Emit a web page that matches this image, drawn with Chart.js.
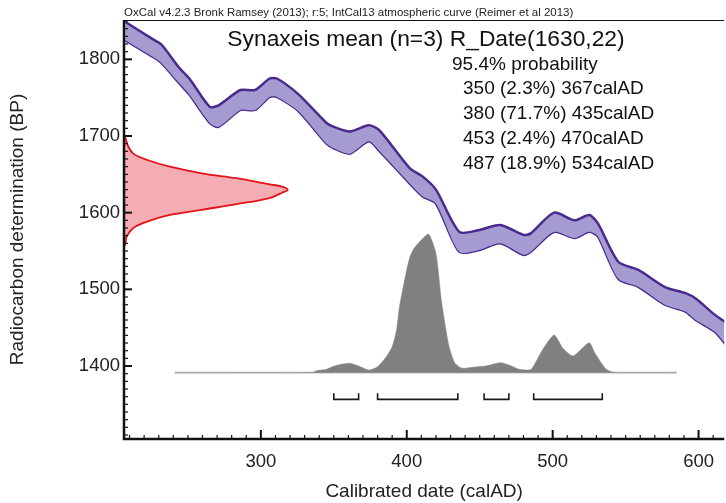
<!DOCTYPE html>
<html>
<head>
<meta charset="utf-8">
<script src="https://cdn.jsdelivr.net/npm/chart.js@4"></script>
<style>
  html, body { margin: 0; padding: 0; background: #ffffff; }
  #wrap { width: 726px; height: 503px; position: relative; }
</style>
</head>
<body>
<div id="wrap"><canvas id="c"></canvas></div>
<script>
// ---- Calibration curve (IntCal13) band, calAD vs BP ----
const calX     = [207, 227, 232, 244, 251, 265, 271, 286, 296, 306, 311, 326, 345, 350, 361, 374, 381, 402, 411, 420, 436, 449, 464, 480, 485, 501, 515, 525, 531, 545, 559, 577, 591, 598, 611, 620];
const calUpper = [1849, 1825, 1819, 1789, 1775, 1738, 1740, 1760, 1760, 1775, 1775, 1754, 1717, 1712, 1706, 1714, 1708, 1658, 1647, 1630, 1575, 1577, 1584, 1571, 1573, 1600, 1590, 1597, 1586, 1536, 1525, 1503, 1495, 1488, 1467, 1455];
const calLower = [1825, 1802, 1795, 1769, 1754, 1717, 1712, 1734, 1734, 1751, 1751, 1732, 1690, 1684, 1677, 1693, 1681, 1638, 1621, 1612, 1549, 1551, 1560, 1545, 1549, 1575, 1567, 1575, 1569, 1514, 1503, 1480, 1471, 1460, 1445, 1425];

// ---- Radiocarbon date R_Date(1630,22): BP value and drawn extent (calAD) ----
const dateBP    = [1700, 1699, 1686, 1677, 1669, 1660, 1651, 1645, 1637, 1634, 1630, 1626, 1619, 1611, 1604, 1597, 1588, 1580, 1569, 1558, 1557];
const dateWidth = [206.2, 206.9, 209.2, 212.6, 221.7, 237.7, 260.4, 283.2, 305.9, 314.5, 318.4, 314.5, 305.9, 283.2, 260.4, 237.7, 221.7, 212.6, 208.1, 206.9, 206.2];

// ---- Calibrated probability distribution (relative) ----
const distX = [241, 326, 336, 338, 345, 349, 355, 361, 367, 374, 380, 386, 390, 393, 395, 399, 402, 405, 410, 415, 420, 424, 429, 433, 438, 445, 454, 464, 470, 477, 484, 486, 493, 501, 507, 514, 525, 529, 536, 540, 545, 585];
const distP = [0, 0, 0.003, 0.014, 0.025, 0.043, 0.06, 0.068, 0.048, 0.019, 0.043, 0.115, 0.187, 0.308, 0.476, 0.692, 0.83, 0.897, 0.957, 1.0, 0.861, 0.5, 0.187, 0.068, 0.032, 0.039, 0.048, 0.072, 0.056, 0.025, 0.019, 0.032, 0.164, 0.272, 0.176, 0.12, 0.216, 0.14, 0.032, 0.007, 0, 0];

// ---- 95.4% ranges ----
const rangeFrom = [350, 380, 453, 487];
const rangeTo   = [367, 435, 470, 534];
const rangePct  = [2.3, 71.7, 2.4, 18.9];

const xTicks = [300, 400, 500, 600];
const yTicks = [1400, 1500, 1600, 1700, 1800];

const titleText = 'Synaxeis mean (n=3) R_Date(1630,22)';
const headerText = 'OxCal v4.2.3 Bronk Ramsey (2013); r:5; IntCal13 atmospheric curve (Reimer et al 2013)';
const probText = '95.4% probability';

const FONT = '"Liberation Sans", Arial, sans-serif';
const PURPLE = '#4b2a8e';
const LAVENDER = '#a69bd1';

const bracketTop = -0.148, bracketBottom = -0.192;
const bracketSets = rangeFrom.map((f, i) => ({
  type: 'line',
  data: [{x: f, y: bracketTop}, {x: f, y: bracketBottom}, {x: rangeTo[i], y: bracketBottom}, {x: rangeTo[i], y: bracketTop}],
  yAxisID: 'y2',
  borderColor: '#1a1a1a',
  borderWidth: 1.6,
  pointRadius: 0,
  fill: false,
  tension: 0
}));

const frame = {
  id: 'frame',
  afterDraw(chart) {
    const {ctx, chartArea: a, scales} = chart;
    const xs = scales.x, ys = scales.y;
    ctx.save();
    ctx.strokeStyle = '#111';
    for (let v = 210; v <= 620; v += 10) {
      const px = xs.getPixelForValue(v);
      if (px < a.left || px > a.right) continue;
      const major = v % 100 === 0;
      ctx.lineWidth = major ? 2 : 1.2;
      ctx.beginPath(); ctx.moveTo(px, a.bottom); ctx.lineTo(px, a.bottom - (major ? 9 : 4)); ctx.stroke();
    }
    for (let v = 1310; v <= 1850; v += 10) {
      const py = ys.getPixelForValue(v);
      if (py < a.top || py > a.bottom) continue;
      const major = v % 100 === 0;
      ctx.lineWidth = major ? 2 : 1.2;
      ctx.beginPath(); ctx.moveTo(a.left, py); ctx.lineTo(a.left + (major ? 8 : 4), py); ctx.stroke();
    }
    ctx.lineWidth = 2.5;
    ctx.beginPath(); ctx.moveTo(a.left, a.top); ctx.lineTo(a.left, a.bottom); ctx.lineTo(a.right, a.bottom); ctx.stroke();
    ctx.lineWidth = 1;
    ctx.beginPath(); ctx.moveTo(a.left, a.top + 0.5); ctx.lineTo(a.right, a.top + 0.5); ctx.stroke();
    ctx.fillStyle = '#222';
    ctx.textBaseline = 'alphabetic';
    ctx.textAlign = 'left';
    ctx.font = '11.5px ' + FONT;
    ctx.fillText(headerText, a.left, 16);
    ctx.fillStyle = '#111';
    ctx.font = '22.8px ' + FONT;
    ctx.textAlign = 'center';
    ctx.fillText(titleText, 426, 46);
    ctx.textAlign = 'left';
    ctx.font = '19px ' + FONT;
    ctx.fillText(probText, 452, 69.5);
    rangeFrom.forEach((f, i) => {
      ctx.fillText(f + ' (' + rangePct[i] + '%) ' + rangeTo[i] + 'calAD', 463, 94 + i * 25);
    });
    ctx.restore();
  }
};

new Chart(document.getElementById('c'), {
  type: 'line',
  data: {
    datasets: [
      {
        data: calX.map((x, i) => ({x, y: calUpper[i]})),
        borderColor: PURPLE, borderWidth: 2.5, pointRadius: 0, tension: 0.25,
        backgroundColor: LAVENDER, fill: '+1'
      },
      {
        data: calX.map((x, i) => ({x, y: calLower[i]})),
        borderColor: PURPLE, borderWidth: 2.5, pointRadius: 0, tension: 0.25, fill: false
      },
      {
        data: dateWidth.map((w, i) => ({x: w, y: dateBP[i]})),
        borderColor: '#e3131b', borderWidth: 1.8, pointRadius: 0, tension: 0.35,
        backgroundColor: 'rgba(240,150,158,0.78)', fill: 'shape'
      },
      {
        data: distX.map((x, i) => ({x, y: distP[i]})),
        yAxisID: 'y2',
        borderColor: '#808080', borderWidth: 0.5, pointRadius: 0, tension: 0.2,
        backgroundColor: '#808080', fill: 'origin'
      },
      {
        data: [{x: distX[0], y: 0}, {x: distX[distX.length - 1], y: 0}],
        yAxisID: 'y2',
        borderColor: '#bdbdbd', borderWidth: 1.8, pointRadius: 0, fill: false
      },
      ...bracketSets
    ]
  },
  options: {
    responsive: true,
    maintainAspectRatio: false,
    animation: false,
    devicePixelRatio: 1,
    layout: { padding: { top: 20, right: 0, left: 0, bottom: 0 } },
    plugins: { legend: { display: false }, tooltip: { enabled: false } },
    scales: {
      x: {
        type: 'linear', min: 206.2, max: 617.6,
        grid: { display: false, drawTicks: false },
        border: { display: false },
        afterBuildTicks: s => { s.ticks = xTicks.map(v => ({value: v})); },
        afterFit: s => { s.height = 64; },
        ticks: { padding: 12, color: '#222', font: { family: FONT, size: 18.5 }, callback: v => String(v) },
        title: { display: true, text: 'Calibrated date (calAD)', color: '#222', font: { family: FONT, size: 19 }, padding: { top: 0, bottom: 0 } }
      },
      y: {
        type: 'linear', min: 1304.8, max: 1851.3,
        grid: { display: false, drawTicks: false },
        border: { display: false },
        afterBuildTicks: s => { s.ticks = yTicks.map(v => ({value: v})); },
        afterFit: s => { s.width = 124; },
        ticks: { padding: 4, color: '#222', font: { family: FONT, size: 18.5 }, callback: v => String(v) },
        title: { display: true, text: 'Radiocarbon determination (BP)', color: '#222', font: { family: FONT, size: 19 }, padding: { top: 6.5, bottom: 0 } }
      },
      y2: {
        type: 'linear', min: -0.478, max: 2.5425, display: false
      }
    }
  },
  plugins: [frame]
});
</script>
</body>
</html>
